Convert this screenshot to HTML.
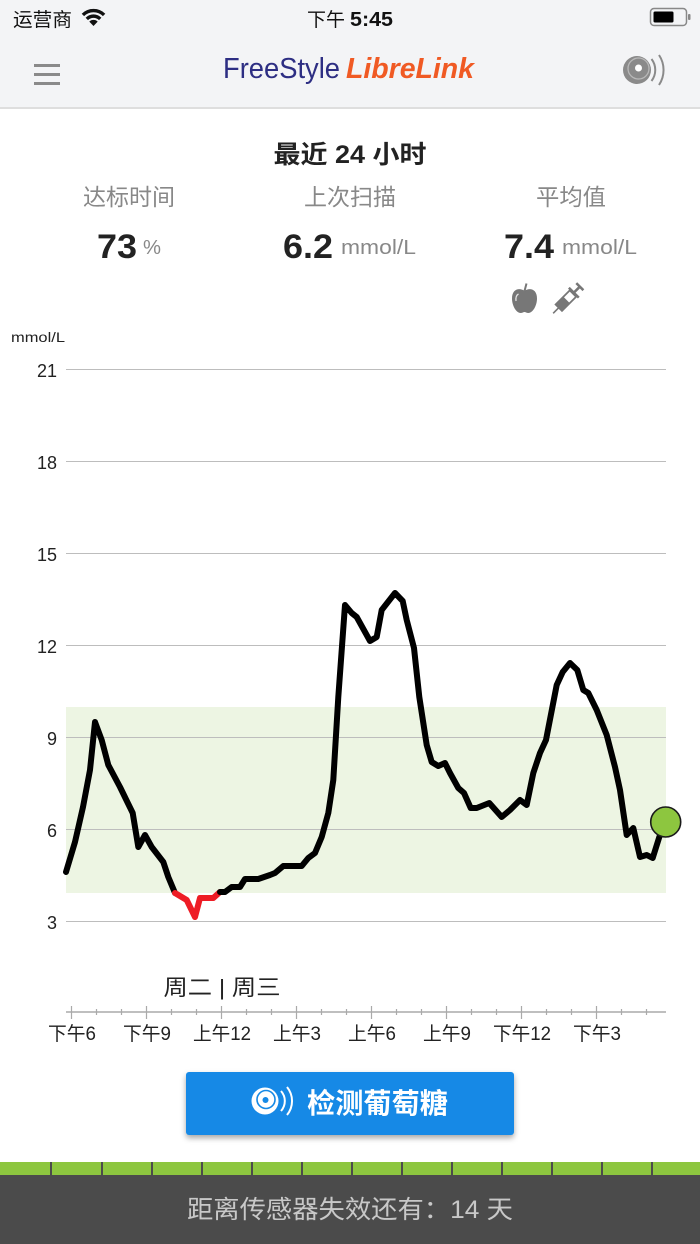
<!DOCTYPE html>
<html><head><meta charset="utf-8">
<style>
html,body{margin:0;padding:0;background:#fff;}
body{width:700px;height:1244px;overflow:hidden;}
svg{display:block;}
text{font-family:"Liberation Sans","Noto Sans CJK SC",sans-serif;}
</style></head>
<body>
<svg width="700" height="1244" viewBox="0 0 700 1244" xmlns="http://www.w3.org/2000/svg">
<defs>
<filter id="sh" x="-10%" y="-20%" width="120%" height="160%">
<feDropShadow dx="0" dy="3" stdDeviation="3" flood-color="#000" flood-opacity="0.35"/>
</filter>
</defs>
<!-- header background -->
<rect x="0" y="0" width="700" height="108" fill="#f3f4f6"/>
<rect x="0" y="107" width="700" height="2" fill="#dedede"/>
<!-- status bar -->
<text x="13" y="26" font-size="19" fill="#111" textLength="59" lengthAdjust="spacingAndGlyphs">运营商</text>
<g fill="none" stroke="#111" stroke-width="3.4">
<path d="M82.9,14.9 A15,15 0 0 1 104.1,14.9"/>
<path d="M86.8,18.9 A9.5,9.5 0 0 1 100.2,18.9"/>
</g>
<path d="M93.5,26 L89.3,21.6 A6,6 0 0 1 97.7,21.6 Z" fill="#111"/>
<text x="307" y="26" font-size="19" fill="#111">下午</text>
<text x="350" y="26" font-size="20" font-weight="bold" fill="#111" textLength="43" lengthAdjust="spacingAndGlyphs">5:45</text>
<rect x="650.5" y="8.5" width="36" height="17" rx="3.5" fill="none" stroke="#888" stroke-width="1.5"/>
<rect x="653.5" y="11.5" width="20" height="11" rx="1.5" fill="#000"/>
<rect x="688" y="14" width="2.5" height="6" rx="1" fill="#888"/>
<!-- nav -->
<rect x="34" y="64" width="26" height="3" fill="#8a8a8a"/>
<rect x="34" y="73" width="26" height="3" fill="#8a8a8a"/>
<rect x="34" y="82" width="26" height="3" fill="#8a8a8a"/>
<text x="223" y="78" font-size="29" fill="#2d2e83" textLength="117" lengthAdjust="spacingAndGlyphs">FreeStyle</text>
<text x="346" y="78" font-size="29" font-style="italic" font-weight="bold" fill="#f05a24" textLength="128" lengthAdjust="spacingAndGlyphs">LibreLink</text>
<circle cx="637" cy="70" r="14" fill="#8a8a8a"/>
<circle cx="638.5" cy="68.5" r="10.5" fill="none" stroke="#b8b8b8" stroke-width="1.3"/>
<circle cx="638.5" cy="68" r="3.5" fill="#fff"/>
<g fill="none" stroke="#8a8a8a" stroke-width="2">
<path d="M651.5,59 A18,18 0 0 1 651.5,81"/>
<path d="M659,55 A27,27 0 0 1 659,85"/>
</g>
<!-- title & stats -->
<text x="350" y="163" font-size="25" font-weight="bold" fill="#222" text-anchor="middle" textLength="153" lengthAdjust="spacingAndGlyphs">最近 24 小时</text>
<text x="129" y="205" font-size="23" fill="#888" text-anchor="middle" textLength="92" lengthAdjust="spacingAndGlyphs">达标时间</text>
<text x="350" y="205" font-size="23" fill="#888" text-anchor="middle" textLength="92" lengthAdjust="spacingAndGlyphs">上次扫描</text>
<text x="571" y="205" font-size="23" fill="#888" text-anchor="middle" textLength="70" lengthAdjust="spacingAndGlyphs">平均值</text>
<text x="97" y="258" font-size="34" font-weight="bold" fill="#222" textLength="40" lengthAdjust="spacingAndGlyphs">73</text>
<text x="143" y="254" font-size="20" fill="#888" textLength="18" lengthAdjust="spacingAndGlyphs">%</text>
<text x="283" y="258" font-size="34" font-weight="bold" fill="#222" textLength="50" lengthAdjust="spacingAndGlyphs">6.2</text>
<text x="341" y="254" font-size="20" fill="#888" textLength="75" lengthAdjust="spacingAndGlyphs">mmol/L</text>
<text x="504" y="258" font-size="34" font-weight="bold" fill="#222" textLength="50" lengthAdjust="spacingAndGlyphs">7.4</text>
<text x="562" y="254" font-size="20" fill="#888" textLength="75" lengthAdjust="spacingAndGlyphs">mmol/L</text>
<!-- apple -->
<path d="M524.5,291 C520,287.5 512,288.5 512,298.5 C512,306 516.5,313 520.5,313 C522.5,313 523.5,312 524.5,312 C525.5,312 526.5,313 528.5,313 C532.5,313 537,306 537,298.5 C537,288.5 529,287.5 524.5,291 Z" fill="#777"/>
<path d="M524.5,291 L526.5,283.5" stroke="#777" stroke-width="2"/>
<path d="M516,301 C515.5,297 516.5,295 518.5,294" stroke="#fff" stroke-width="1.3" fill="none" opacity="0.8"/>
<!-- syringe -->
<g transform="translate(568,298.5) rotate(-45)" fill="#777">
<rect x="-21" y="-0.8" width="9" height="1.6"/>
<rect x="-13" y="-4.5" width="20" height="9" fill="none" stroke="#777" stroke-width="1.8"/>
<rect x="-13" y="-4.5" width="11" height="9"/>
<rect x="7" y="-7" width="2.5" height="14"/>
<rect x="9" y="-1.3" width="7" height="2.6"/>
<rect x="15.5" y="-5" width="2.5" height="10"/>
</g>
<!-- chart -->
<text x="11" y="342" font-size="14" fill="#222" textLength="54" lengthAdjust="spacingAndGlyphs">mmol/L</text>
<rect x="66" y="707" width="600" height="186" fill="#edf5e3"/>
<g stroke="#bdbdbd" stroke-width="1">
<line x1="66" y1="369.5" x2="666" y2="369.5"/>
<line x1="66" y1="461.5" x2="666" y2="461.5"/>
<line x1="66" y1="553.5" x2="666" y2="553.5"/>
<line x1="66" y1="645.5" x2="666" y2="645.5"/>
<line x1="66" y1="737.5" x2="666" y2="737.5"/>
<line x1="66" y1="829.5" x2="666" y2="829.5"/>
<line x1="66" y1="921.5" x2="666" y2="921.5"/>
</g>
<g font-size="18" fill="#222" text-anchor="end">
<text x="57" y="377">21</text>
<text x="57" y="469">18</text>
<text x="57" y="561">15</text>
<text x="57" y="653">12</text>
<text x="57" y="745">9</text>
<text x="57" y="837">6</text>
<text x="57" y="929">3</text>
</g>
<g fill="none" stroke-width="6" stroke-linejoin="round" stroke-linecap="round">
<polyline stroke="#000" points="66,872 75,842 83,807 90,770 95,722 101.7,740 108.3,765 120,787 132.7,813 138.3,847 145,835 151.7,847 163.3,862 168.3,877 175,893"/>
<polyline stroke="#ee1c25" points="175,893 186.7,900 195,917 200,898 213.3,898 220,892"/>
<polyline stroke="#000" points="220,892 225,892 231.7,887 240,887 245,879 258.3,879 270,875 275,873 283.3,866 301.7,866 308.3,858 315,853 321.7,837 328.3,813 333.3,780 338.3,697 345,605 351.7,613 356.7,617 370,641 376.7,637 381.7,610 395,593 402.7,601 406.7,620 414,648 419.3,697 426.7,745 431.7,762 438.3,766 445,763 450,773 458.3,788 464,793 470.7,808 476.7,808 489.3,803 501.7,817 510,810 520,800 526.7,805 533.3,773 540,753 546,740 556.7,685 562.7,672 570,663 577.3,670 583.3,690 588.3,693 596.7,710 606.7,735 615,767 620,790 626.7,835 633.3,828 640,857 646.7,855 652.7,858 659.3,837 665.7,822"/>
</g>
<circle cx="665.7" cy="822" r="15" fill="#8dc63f" stroke="#1a1a1a" stroke-width="1.6"/>
<!-- day label -->
<text x="222" y="995" font-size="22" fill="#222" text-anchor="middle" textLength="117" lengthAdjust="spacingAndGlyphs">周二 | 周三</text>
<!-- x axis -->
<line x1="66" y1="1012" x2="666" y2="1012" stroke="#aaa" stroke-width="1.5"/>
<g stroke="#aaa" stroke-width="1.2">
<line x1="71.5" y1="1006" x2="71.5" y2="1019"/>
<line x1="96.5" y1="1009" x2="96.5" y2="1015"/>
<line x1="121.5" y1="1009" x2="121.5" y2="1015"/>
<line x1="146.5" y1="1006" x2="146.5" y2="1019"/>
<line x1="171.5" y1="1009" x2="171.5" y2="1015"/>
<line x1="196.5" y1="1009" x2="196.5" y2="1015"/>
<line x1="221.5" y1="1006" x2="221.5" y2="1019"/>
<line x1="246.5" y1="1009" x2="246.5" y2="1015"/>
<line x1="271.5" y1="1009" x2="271.5" y2="1015"/>
<line x1="296.5" y1="1006" x2="296.5" y2="1019"/>
<line x1="321.5" y1="1009" x2="321.5" y2="1015"/>
<line x1="346.5" y1="1009" x2="346.5" y2="1015"/>
<line x1="371.5" y1="1006" x2="371.5" y2="1019"/>
<line x1="396.5" y1="1009" x2="396.5" y2="1015"/>
<line x1="421.5" y1="1009" x2="421.5" y2="1015"/>
<line x1="446.5" y1="1006" x2="446.5" y2="1019"/>
<line x1="471.5" y1="1009" x2="471.5" y2="1015"/>
<line x1="496.5" y1="1009" x2="496.5" y2="1015"/>
<line x1="521.5" y1="1006" x2="521.5" y2="1019"/>
<line x1="546.5" y1="1009" x2="546.5" y2="1015"/>
<line x1="571.5" y1="1009" x2="571.5" y2="1015"/>
<line x1="596.5" y1="1006" x2="596.5" y2="1019"/>
<line x1="621.5" y1="1009" x2="621.5" y2="1015"/>
<line x1="646.5" y1="1009" x2="646.5" y2="1015"/>
</g>
<g font-size="19" fill="#222" text-anchor="middle">
<text x="72" y="1040" textLength="48" lengthAdjust="spacingAndGlyphs">下午6</text>
<text x="147" y="1040" textLength="48" lengthAdjust="spacingAndGlyphs">下午9</text>
<text x="222" y="1040" textLength="58" lengthAdjust="spacingAndGlyphs">上午12</text>
<text x="297" y="1040" textLength="48" lengthAdjust="spacingAndGlyphs">上午3</text>
<text x="372" y="1040" textLength="48" lengthAdjust="spacingAndGlyphs">上午6</text>
<text x="447" y="1040" textLength="48" lengthAdjust="spacingAndGlyphs">上午9</text>
<text x="522" y="1040" textLength="58" lengthAdjust="spacingAndGlyphs">下午12</text>
<text x="597" y="1040" textLength="48" lengthAdjust="spacingAndGlyphs">下午3</text>
</g>
<!-- button -->
<rect x="186" y="1072" width="328" height="63" rx="3" fill="#1589e6" filter="url(#sh)"/>
<circle cx="265" cy="1101" r="13.5" fill="#fff"/>
<circle cx="266" cy="1099.5" r="9" fill="none" stroke="#1589e6" stroke-width="1.6"/>
<circle cx="265.5" cy="1100" r="3" fill="#1589e6"/>
<g fill="none" stroke="#fff" stroke-width="2">
<path d="M281,1091 A15,15 0 0 1 281,1111"/>
<path d="M287,1087 A22,22 0 0 1 287,1115"/>
</g>
<text x="307" y="1113" font-size="28" font-weight="bold" fill="#fff" textLength="141" lengthAdjust="spacingAndGlyphs">检测葡萄糖</text>
<!-- bottom -->
<rect x="0" y="1162" width="700" height="13" fill="#8dc63f"/>
<g fill="#4b4b4b">
<rect x="50" y="1162" width="2" height="13"/>
<rect x="101" y="1162" width="2" height="13"/>
<rect x="151" y="1162" width="2" height="13"/>
<rect x="201" y="1162" width="2" height="13"/>
<rect x="251" y="1162" width="2" height="13"/>
<rect x="301" y="1162" width="2" height="13"/>
<rect x="351" y="1162" width="2" height="13"/>
<rect x="401" y="1162" width="2" height="13"/>
<rect x="451" y="1162" width="2" height="13"/>
<rect x="501" y="1162" width="2" height="13"/>
<rect x="551" y="1162" width="2" height="13"/>
<rect x="601" y="1162" width="2" height="13"/>
<rect x="651" y="1162" width="2" height="13"/>
</g>
<rect x="0" y="1175" width="700" height="69" fill="#4b4b4b"/>
<text x="187" y="1218" font-size="25" fill="#c8c8c8" textLength="326" lengthAdjust="spacingAndGlyphs">距离传感器失效还有：14 天</text>
</svg>
</body></html>
